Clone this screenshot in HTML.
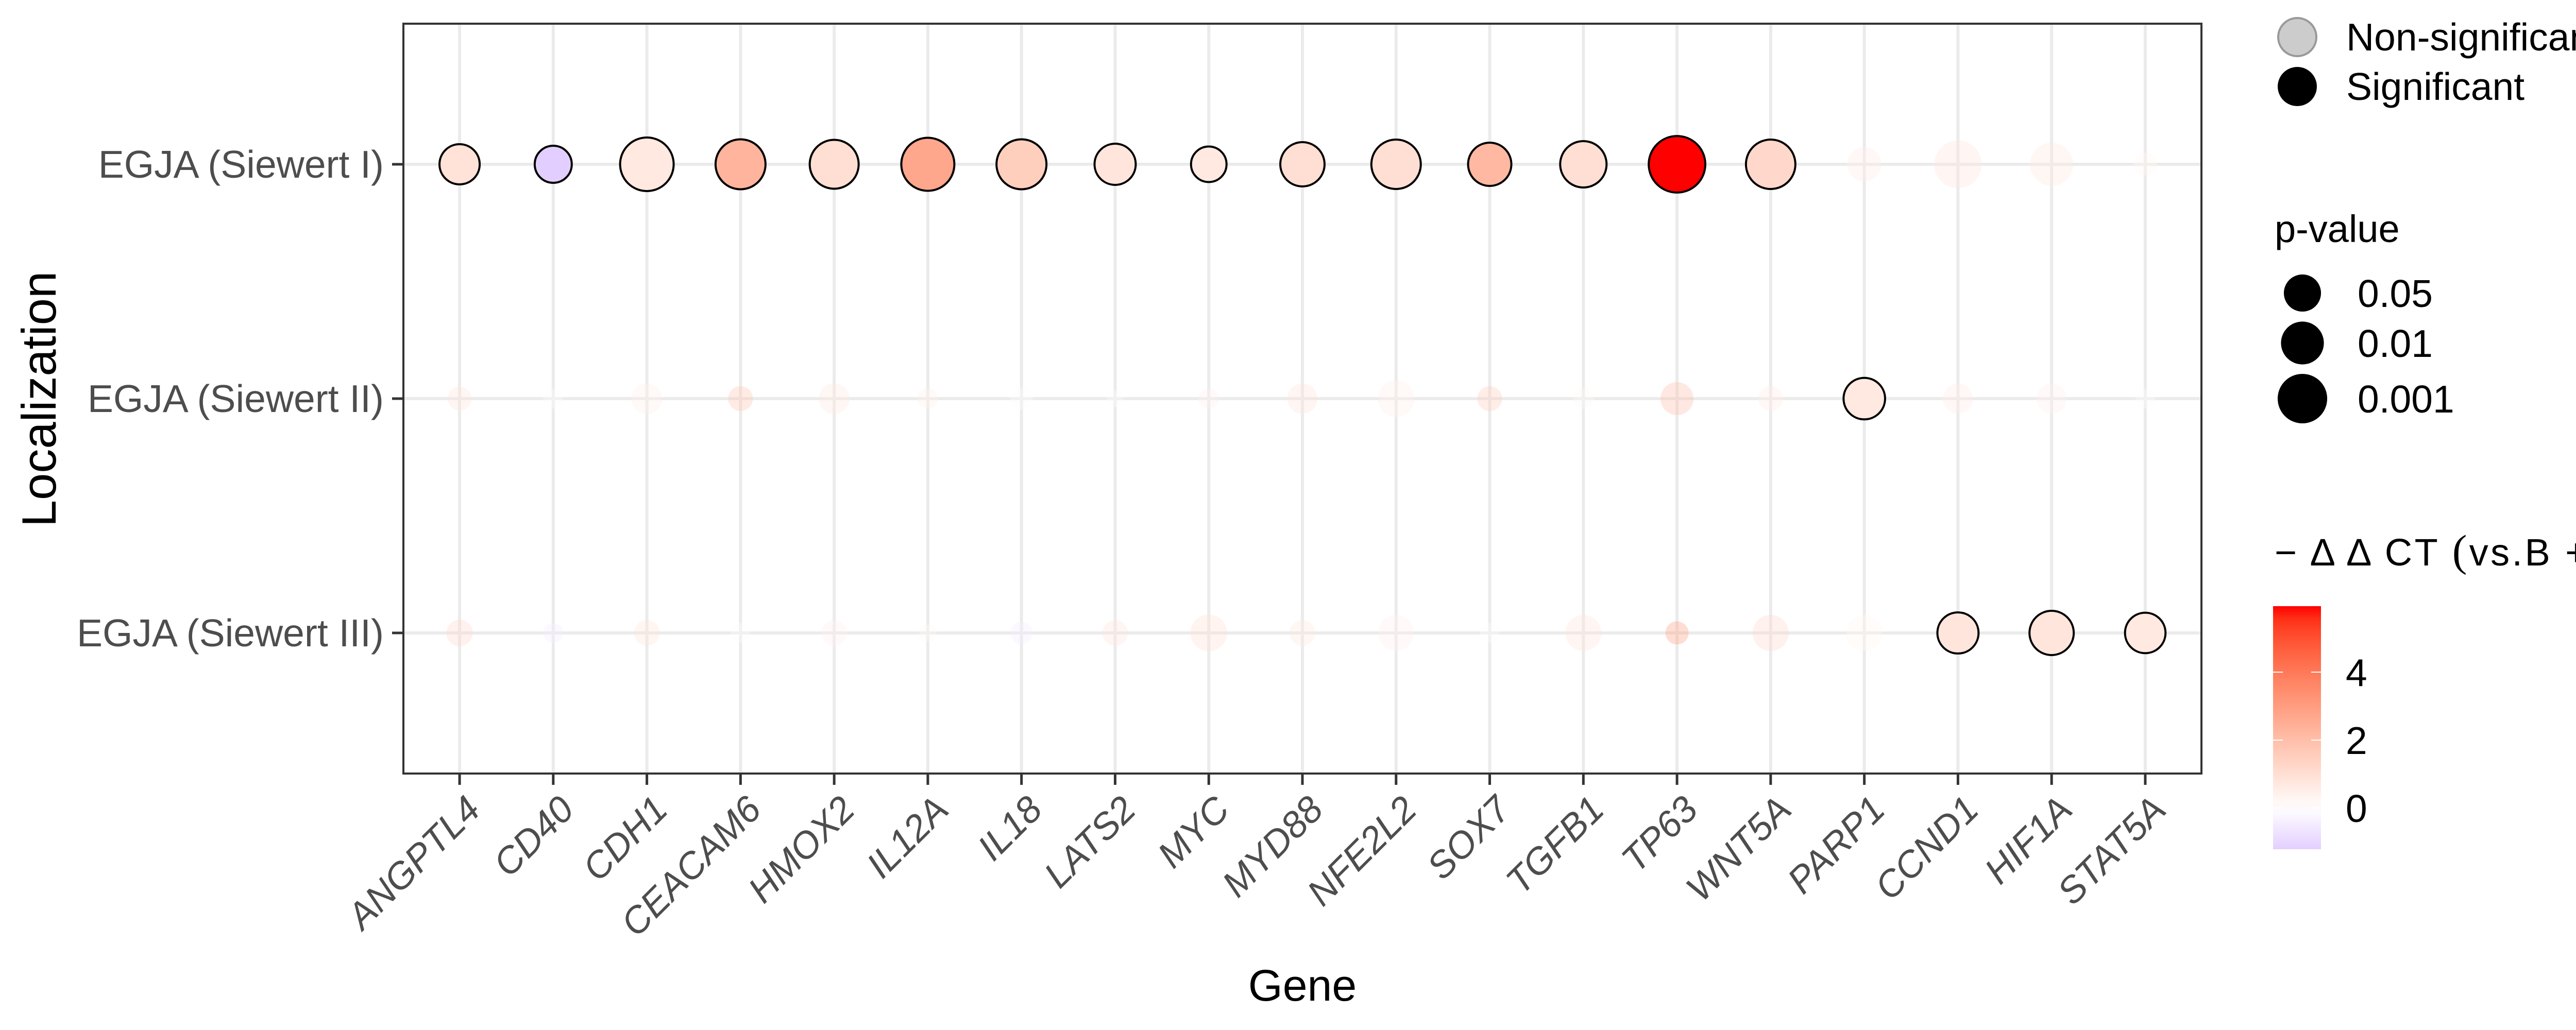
<!DOCTYPE html>
<html><head><meta charset="utf-8">
<style>
html,body{margin:0;padding:0;background:#fff;}
svg{display:block;font-family:"Liberation Sans",Arial,sans-serif;}
</style></head>
<body>
<svg id="chart" width="5200" height="2000" viewBox="0 0 5200 2000" xmlns="http://www.w3.org/2000/svg">
<rect x="0" y="0" width="5200" height="2000" fill="#fff"/>
<g id="grid"></g>
<g id="points"></g>
<rect x="783" y="46" width="3490" height="1456" fill="none" stroke="#333" stroke-width="4"/>
<g id="axes"></g>
<text x="0" y="0" transform="translate(108,775) rotate(-90)" text-anchor="middle" font-size="94" fill="#000">Localization</text>
<text x="2528" y="1943" text-anchor="middle" font-size="86" fill="#000">Gene</text>

<g>
  <circle cx="4459" cy="72" r="37" fill="#CCCCCC" stroke="#999" stroke-width="4"/>
  <text x="4554" y="98" font-size="75" fill="#000">Non-significant</text>
  <circle cx="4459" cy="168" r="38" fill="#000"/>
  <text x="4554" y="194" font-size="75" fill="#000">Significant</text>
</g>
<g id="sizeLegend">
  <text x="4415" y="470" font-size="74" fill="#000">p-value</text>
</g>
<g id="colorLegend">
  <defs><linearGradient id="cbar" x1="0" y1="1" x2="0" y2="0"></linearGradient></defs>
  <text x="4415" y="1098" font-size="74" fill="#000" textLength="715" lengthAdjust="spacing">− Δ Δ CT <tspan font-family="Liberation Serif, serif" font-size="86">(</tspan>vs.B + A<tspan font-family="Liberation Serif, serif" font-size="86">)</tspan></text>
</g>
</svg>
<script>
// ---- data ----
const genes = ["ANGPTL4","CD40","CDH1","CEACAM6","HMOX2","IL12A","IL18","LATS2","MYC","MYD88","NFE2L2","SOX7","TGFB1","TP63","WNT5A","PARP1","CCND1","HIF1A","STAT5A"];
const locations = ["EGJA (Siewert I)","EGJA (Siewert II)","EGJA (Siewert III)"];
const ddctSiewertI   = [0.9,-1.21,0.7,2.3,1.0,2.7,1.5,0.8,0.7,1.0,1.0,2.2,1.0,5.94,1.2,0.6,0.8,0.7,0.3];
const ddctSiewertII  = [0.8,0.1,0.5,1.8,0.7,0.5,0.1,0.1,0.4,0.8,0.5,1.6,0.2,2.0,0.6,0.7,0.6,0.4,0.1];
const ddctSiewertIII = [1.2,-0.5,0.9,-0.1,0.4,0.3,-0.5,0.8,1.0,0.7,0.4,0.1,0.8,3.0,1.2,0.3,0.8,0.8,0.7];
const pSiewertI   = [0.012,0.030,0.00008,0.00037,0.00056,0.0001,0.00037,0.0089,0.045,0.0032,0.00046,0.0045,0.0015,0.00002,0.00046,0.10,0.002,0.009,0.6];
const pSiewertII  = [0.55,0.8,0.2,0.5,0.2,0.75,0.65,0.95,0.75,0.22,0.06,0.5,0.75,0.13,0.5,0.008,0.22,0.22,0.8];
const pSiewertIII = [0.4,0.8,0.45,0.8,0.45,0.9,0.65,0.45,0.055,0.45,0.065,0.8,0.065,0.6,0.065,0.065,0.009,0.0032,0.011];
const sigSiewertI   = [1,1,1,1,1,1,1,1,1,1,1,1,1,1,1,0,0,0,0];
const sigSiewertII  = [0,0,0,0,0,0,0,0,0,0,0,0,0,0,0,1,0,0,0];
const sigSiewertIII = [0,0,0,0,0,0,0,0,0,0,0,0,0,0,0,0,1,1,1];
const sizeBreaks = [0.05,0.01,0.001];
const colorTicks = [0,2,4];
const colorMin = -1.21, colorMax = 5.94;

const NS="http://www.w3.org/2000/svg";
const svg=document.getElementById('chart');
const PL=783,PR=4273,PT=46,PB=1502;
const xStep=(PR-PL)/(genes.length-1+1.2), yStep=(PB-PT)/(locations.length-1+1.2);
function xScale(i){return PL+0.6*xStep+i*xStep;}
function yScale(j){return PT+0.6*yStep+j*yStep;}
function rScale(p){const L=Math.max(0,-Math.log10(p));return 12.9+20.3*Math.sqrt(L);}
function s2l(c){c/=255;return c<=0.04045?c/12.92:Math.pow((c+0.055)/1.055,2.4);}
function l2s(c){c=c<=0.0031308?12.92*c:1.055*Math.pow(c,1/2.4)-0.055;return Math.round(Math.max(0,Math.min(1,c))*255);}
function toLab(rgb){const r=s2l(rgb[0]),g=s2l(rgb[1]),b=s2l(rgb[2]);
 let X=(0.4124*r+0.3576*g+0.1805*b)/0.95047,Y=0.2126*r+0.7152*g+0.0722*b,Z=(0.0193*r+0.1192*g+0.9505*b)/1.08883;
 const f=t=>t>0.008856?Math.cbrt(t):7.787*t+16/116;
 return [116*f(Y)-16,500*(f(X)-f(Y)),200*(f(Y)-f(Z))];}
function fromLab(l){const fy=(l[0]+16)/116,fx=fy+l[1]/500,fz=fy-l[2]/200;
 const fi=t=>t*t*t>0.008856?t*t*t:(t-16/116)/7.787;
 const X=fi(fx)*0.95047,Y=fi(fy),Z=fi(fz)*1.08883;
 const r=3.2406*X-1.5372*Y-0.4986*Z,g=-0.9689*X+1.8758*Y+0.0415*Z,b=0.0557*X-0.2040*Y+1.0570*Z;
 return 'rgb('+l2s(r)+','+l2s(g)+','+l2s(b)+')';}
const labW=toLab([255,255,255]),labR=toLab([255,0,0]),labB=toLab([0,0,255]);
const maxAbs=Math.max(Math.abs(colorMin),colorMax);
function colorOf(v){const t=Math.min(1,Math.abs(v)/maxAbs);const e=v>=0?labR:labB;
 return fromLab([0,1,2].map(k=>labW[k]+(e[k]-labW[k])*t));}
function mk(tag,attrs,parent){const el=document.createElementNS(NS,tag);for(const k in attrs)el.setAttribute(k,attrs[k]);parent.appendChild(el);return el;}

const grid=document.getElementById('grid');
genes.forEach((g,i)=>{const l=mk('line',{x1:xScale(i),x2:xScale(i),y1:PT,y2:PB,stroke:'#EBEBEB','stroke-width':6},grid);
 
 });
locations.forEach((g,j)=>{const l=mk('line',{x1:PL,x2:PR,y1:yScale(j),y2:yScale(j),stroke:'#EBEBEB','stroke-width':6},grid);
 
 });

const pts=document.getElementById('points');
const ddct=[ddctSiewertI,ddctSiewertII,ddctSiewertIII];
const pv=[pSiewertI,pSiewertII,pSiewertIII];
const sig=[sigSiewertI,sigSiewertII,sigSiewertIII];
locations.forEach((loc,j)=>{genes.forEach((g,i)=>{
 const s=sig[j][i]===1;
 const c=mk('circle',{cx:xScale(i),cy:yScale(j),r:rScale(pv[j][i])-(s?2:0),fill:colorOf(ddct[j][i])},pts);
 if(s){c.setAttribute('stroke','#000');c.setAttribute('stroke-width','4');}
 else{c.setAttribute('fill-opacity','0.35');}
 
 
});});

const ax=document.getElementById('axes');
genes.forEach((g,i)=>{const x=xScale(i);
 const t=mk('line',{x1:x,x2:x,y1:PB,y2:PB+22,stroke:'#333','stroke-width':5},ax);
 
 
 const tx=mk('text',{x:0,y:0,transform:'translate('+(x+8)+',1540) rotate(-45)','text-anchor':'end','dominant-baseline':'hanging','font-size':72,'font-style':'italic',fill:'#4D4D4D'},ax);
 tx.textContent=g;
 
 });
locations.forEach((lbl,j)=>{const y=yScale(j);
 const t=mk('line',{x1:PL-22,x2:PL,y1:y,y2:y,stroke:'#333','stroke-width':5},ax);
 
 
 const tx=mk('text',{x:PL-38,y:y+26,'text-anchor':'end','font-size':75,fill:'#4D4D4D'},ax);
 tx.textContent=lbl;
 
 });

const sl=document.getElementById('sizeLegend');
const sizeY=[569,666,774];
sizeBreaks.forEach((p,k)=>{
 const c=mk('circle',{cx:4469,cy:sizeY[k],r:rScale(p),fill:'#000'},sl);
 
 
 const t=mk('text',{x:4576,y:sizeY[k]+27,'font-size':75,fill:'#000'},sl);
 t.textContent=String(p);
 
 });

const cl=document.getElementById('colorLegend');
const grad=document.getElementById('cbar');
for(let k=0;k<=20;k++){const v=colorMin+(colorMax-colorMin)*k/20;
 mk('stop',{offset:(k/20),'stop-color':colorOf(v)},grad);}
const CB_T=1177,CB_B=1649,CB_L=4412,CB_W=93;
function cY(v){return CB_B-(v-colorMin)/(colorMax-colorMin)*(CB_B-CB_T);}
const bar=mk('rect',{x:CB_L,y:CB_T,width:CB_W,height:CB_B-CB_T,fill:'url(#cbar)'},cl);


colorTicks.forEach(v=>{const y=cY(v);
 const a=mk('line',{x1:CB_L,x2:CB_L+19,y1:y,y2:y,stroke:'#fff','stroke-width':2},cl);
 
 
 const b=mk('line',{x1:CB_L+CB_W-19,x2:CB_L+CB_W,y1:y,y2:y,stroke:'#fff','stroke-width':2},cl);
 
 
 const t=mk('text',{x:4553,y:y+27,'font-size':75,fill:'#000'},cl);
 t.textContent=String(v);
 
 });
</script>
</body></html>
